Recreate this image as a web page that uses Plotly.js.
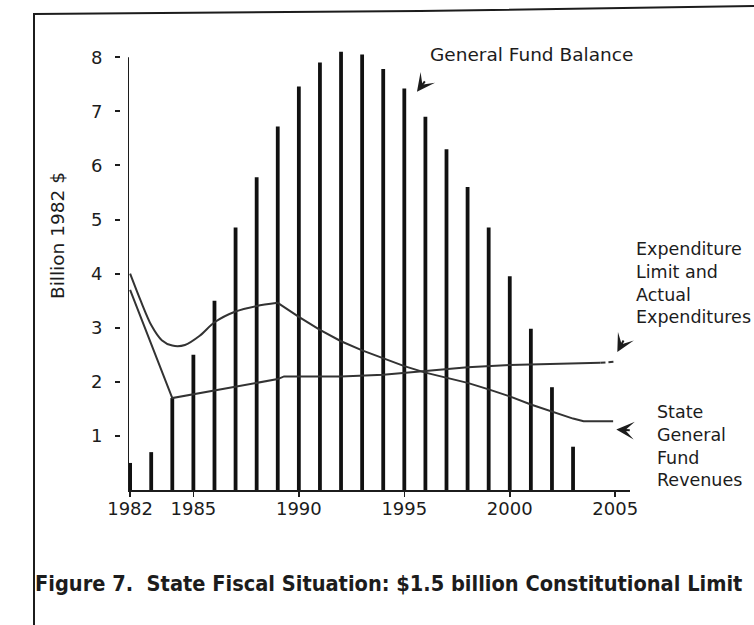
<!DOCTYPE html>
<html>
<head>
<meta charset="utf-8">
<script src="https://cdn.plot.ly/plotly-3.0.1.min.js"></script>
<style>html,body{margin:0;padding:0;background:#fff;}#chart{width:754px;height:625px;}</style>
</head>
<body>
<div id="chart"></div>
<script>
// ---- data ----
const balanceYears = [1982,1983,1984,1985,1986,1987,1988,1989,1990,1991,1992,1993,1994,1995,1996,1997,1998,1999,2000,2001,2002,2003];
const balanceValues = [0.5,0.7,1.7,2.5,3.5,4.85,5.78,6.72,7.46,7.9,8.1,8.05,7.78,7.42,6.9,6.3,5.6,4.85,3.95,2.98,1.9,0.8];

const revCurveYears = [1982,1982.5,1983,1983.5,1984,1984.6,1985.3,1986,1987,1988,1989];
const revCurveValues = [4.0,3.5,3.05,2.77,2.67,2.68,2.85,3.1,3.3,3.4,3.46];
const revDeclineYears = [1989,1990,1991,1992,1993,1994,1995,1996,1997,1998,1999,2000,2001,2002,2003,2003.5,2004.9];
const revDeclineValues = [3.46,3.2,2.96,2.75,2.58,2.43,2.29,2.17,2.08,1.98,1.86,1.73,1.58,1.45,1.32,1.27,1.27];

const expYears = [1982,1984,1989,1989.3,1992,1994,1996,1998,2000,2002,2004.3];
const expValues = [3.7,1.7,2.05,2.1,2.1,2.13,2.2,2.27,2.31,2.33,2.35];
const expProjYears = [2004.3,2004.95];
const expProjValues = [2.35,2.37];

const xTickVals = [1982,1985,1990,1995,2000,2005];
const xTickText = ['1982','1985','1990','1995','2000','2005'];
const yTickVals = [1,2,3,4,5,6,7,8];
const yTickText = ['1','2','3','4','5','6','7','8'];

// ---- layout helpers (pixel -> paper) ----
const W = 754, Hh = 625;
const M = {l:120, r:124, t:35, b:135};
const PW = W - M.l - M.r, PH = Hh - M.t - M.b;
const px = p => (p - M.l) / PW;
const py = p => (Hh - M.b - p) / PH;

const ink = '#1c1c1c';
const lineInk = '#333333';
const font = 'DejaVu Sans, Liberation Sans, Arial, sans-serif';

const traces = [
  {type:'bar', x:balanceYears, y:balanceValues, width:0.18,
   marker:{color:'#111111', line:{width:0}}, hoverinfo:'skip', cliponaxis:false},
  {type:'scatter', mode:'lines', x:revCurveYears, y:revCurveValues,
   line:{color:lineInk, width:2, shape:'spline', smoothing:0.8}, hoverinfo:'skip'},
  {type:'scatter', mode:'lines', x:revDeclineYears, y:revDeclineValues,
   line:{color:lineInk, width:2}, hoverinfo:'skip'},
  {type:'scatter', mode:'lines', x:expYears, y:expValues,
   line:{color:lineInk, width:2}, hoverinfo:'skip'},
  {type:'scatter', mode:'lines', x:expProjYears, y:expProjValues,
   line:{color:lineInk, width:2, dash:'5px,3px'}, hoverinfo:'skip'}
];

const arrow = (x, y, ax, ay) => ({x:x, y:y, xref:'x', yref:'y', text:'', showarrow:true,
  arrowhead:3, arrowsize:1.5, arrowwidth:2, arrowcolor:ink, ax:ax, ay:ay});

const layout = {
  width:W, height:Hh,
  margin:M,
  paper_bgcolor:'#ffffff', plot_bgcolor:'#ffffff',
  showlegend:false,
  font:{family:font, size:18, color:ink},
  xaxis:{range:[1981.9,2005.7], domain:[px(128),1], tickvals:xTickVals, ticktext:xTickText,
    ticks:'outside', ticklen:5, tickwidth:1.5, tickcolor:ink, ticklabelstandoff:-4,
    showline:true, linecolor:ink, linewidth:2, showgrid:false, zeroline:false,
    tickfont:{family:font, size:18, color:ink}},
  yaxis:{range:[0, PH/54.1], anchor:'free', position:0, tickvals:yTickVals, ticktext:yTickText,
    ticks:'outside', ticklen:5, tickwidth:2, tickcolor:ink, ticklabelstandoff:9,
    showline:false, showgrid:false, zeroline:false,
    tickfont:{family:font, size:18, color:ink}},
  shapes:[
    {type:'line', xref:'x', yref:'y', x0:1981.9, x1:1981.9, y0:0, y1:8, line:{color:ink, width:2}},
    {type:'line', xref:'paper', yref:'paper', x0:px(34), x1:px(34), y0:py(625), y1:py(13), line:{color:ink, width:2}},
    {type:'path', xref:'paper', yref:'paper',
     path:'M'+px(34)+','+py(14)+' L'+px(420)+','+py(11)+' L'+px(754)+','+py(6),
     line:{color:ink, width:2}}
  ],
  annotations:[
    {xref:'paper', yref:'paper', x:px(57), y:py(236), text:'Billion 1982 $', textangle:-90,
     showarrow:false, font:{family:font, size:18.5, color:ink}, xanchor:'center', yanchor:'middle'},
    {xref:'paper', yref:'paper', x:px(428), y:py(55), text:'General Fund Balance',
     showarrow:false, xanchor:'left', yanchor:'middle', font:{family:font, size:18.5, color:ink}},
    {xref:'paper', yref:'paper', x:px(634), y:py(283), text:'Expenditure<br>Limit and<br>Actual<br>Expenditures',
     showarrow:false, xanchor:'left', yanchor:'middle', align:'left', font:{family:font, size:17.5, color:ink}},
    {xref:'paper', yref:'paper', x:px(655), y:py(446), text:'State<br>General<br>Fund<br>Revenues',
     showarrow:false, xanchor:'left', yanchor:'middle', align:'left', font:{family:font, size:17.5, color:ink}},
    {xref:'paper', yref:'paper', x:px(33), y:py(583),
     text:'<b>Figure 7.  State Fiscal Situation: $1.5 billion Constitutional Limit</b>',
     showarrow:false, xanchor:'left', yanchor:'middle',
     font:{family:'DejaVu Sans Condensed, Liberation Sans Narrow, sans-serif', size:21.6, color:ink}},
    arrow(1995.6, 7.36, 9, -12),
    arrow(2005.1, 2.55, 7, -13),
    arrow(2005.05, 1.12, 15, 1)
  ]
};

Plotly.newPlot('chart', traces, layout, {staticPlot:true, displayModeBar:false});
</script>
</body>
</html>
